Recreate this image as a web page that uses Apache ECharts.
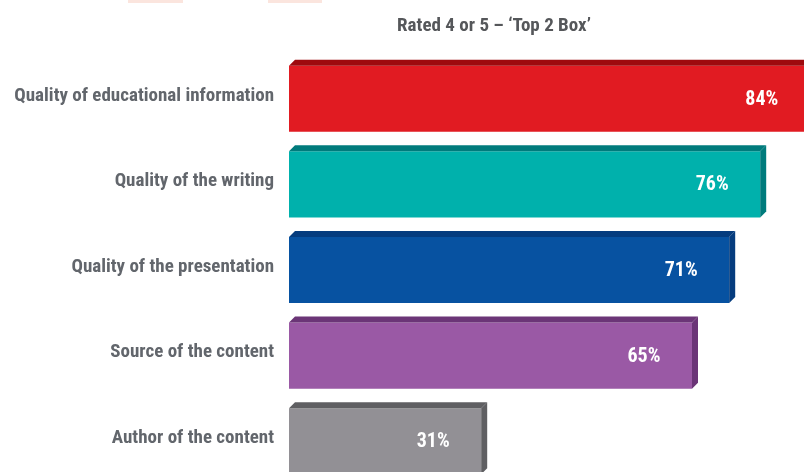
<!DOCTYPE html>
<html>
<head>
<meta charset="utf-8">
<script src="https://cdn.jsdelivr.net/npm/echarts@6/dist/echarts.min.js"></script>
<style>
html,body{margin:0;padding:0;background:#fff;}
#chart{width:804px;height:472px;}
</style>
</head>
<body>
<div id="chart"></div>
<script>
var categories = ['Quality of educational information','Quality of the writing','Quality of the presentation','Source of the content','Author of the content'];
var values = [84, 76, 71, 65, 31];
var faceColors = ['#E11B22','#00B1AC','#0752A1','#9A59A5','#929095'];
var edgeColors = ['#9E0A0E','#007B7C','#053C7E','#6B3577','#5F5F62'];
var titleText = 'Rated 4 or 5 \u2013 \u2018Top 2 Box\u2019';

var FONT = "'Roboto Condensed','Roboto',sans-serif";
var chart = echarts.init(document.getElementById('chart'), null, {renderer:'canvas'});

var D = 6;
function renderItem(params, api) {
  var idx = api.value(1);
  var v = api.value(0);
  var start = api.coord([0, idx]);
  var end = api.coord([v, idx]);
  var band = api.size([0, 1])[1];
  var h = band * 0.842;
  var yT = start[1] - h / 2;
  var yB = start[1] + h / 2;
  var x0 = start[0];
  var x1 = end[0];
  return {
    type: 'group',
    children: [
      { type: 'rect', shape: { x: x0, y: yT + D, width: x1 - x0, height: yB - yT - D },
        style: { fill: faceColors[idx] } },
      { type: 'polygon', shape: { points: [[x0, yT + D], [x0 + D, yT], [x1 + D, yT], [x1, yT + D]] },
        style: { fill: edgeColors[idx] } },
      { type: 'polygon', shape: { points: [[x1, yT + D], [x1 + D, yT], [x1 + D, yB - D], [x1, yB]] },
        style: { fill: edgeColors[idx] } },
      { type: 'text', x: x1 - 48, y: (yT + D + yB) / 2 + 1,
        style: { text: v + '%', fill: '#ffffff', fontFamily: FONT, fontWeight: 'bold', fontSize: 20, align: 'center', verticalAlign: 'middle' } }
    ]
  };
}

chart.setOption({
  animation: false,
  backgroundColor: '#ffffff',
  title: {
    text: titleText, left: 489, top: 12, textAlign: 'center',
    textStyle: { fontFamily: FONT, fontWeight: 'bold', fontSize: 19, color: '#55575a' }
  },
  graphic: [
    { type: 'rect', shape: { x: 128, y: 0, width: 55, height: 3 }, style: { fill: '#fbe5de' }, silent: true },
    { type: 'rect', shape: { x: 268, y: 0, width: 54, height: 3 }, style: { fill: '#fbe5de' }, silent: true }
  ],
  grid: { left: 289, right: -105, top: 53, bottom: -9, containLabel: false, outerBoundsMode: 'none' },
  xAxis: { type: 'value', min: 0, max: 100, show: false },
  yAxis: {
    type: 'category', inverse: true, data: categories,
    axisLine: { show: false }, axisTick: { show: false },
    axisLabel: { margin: 15, color: '#62666c', fontFamily: FONT, fontWeight: 'bold', fontSize: 19, padding: [4,0,0,0] }
  },
  series: [{
    type: 'custom',
    renderItem: renderItem,
    encode: { x: 0, y: 1 },
    data: values.map(function (v, i) { return [v, i]; }),
    clip: false
  }]
});
</script>
</body>
</html>
